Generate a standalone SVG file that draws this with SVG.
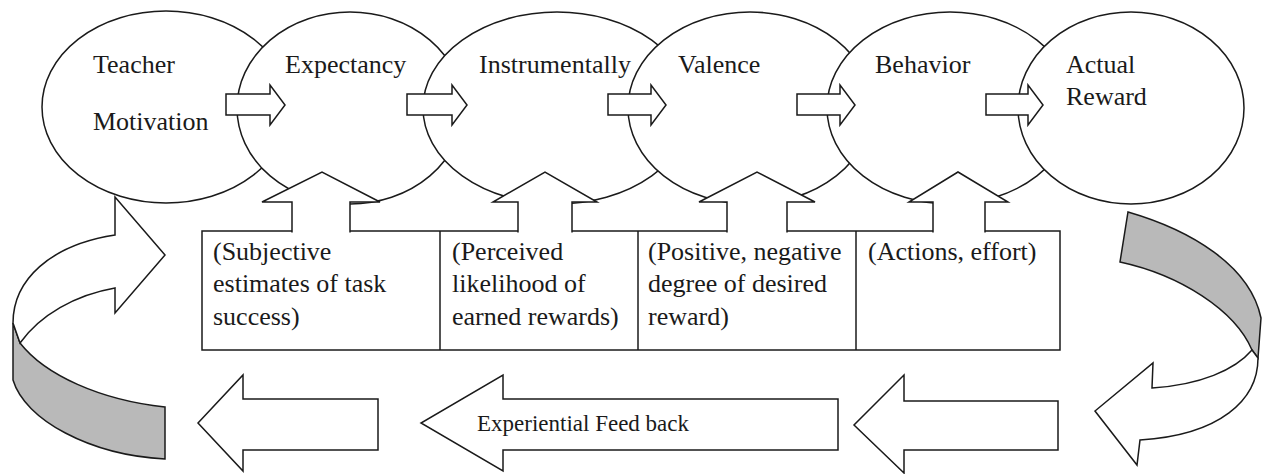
<svg xmlns="http://www.w3.org/2000/svg" width="1262" height="474" viewBox="0 0 1262 474">
<style>
.s{fill:#fff;stroke:#1a1a1a;stroke-width:1.5;stroke-linejoin:miter}
.g{fill:#b9b9b9;stroke:#1a1a1a;stroke-width:1.5}
.ln{fill:none;stroke:#1a1a1a;stroke-width:1.5}
.t{font-family:"Liberation Serif","Times New Roman",serif;font-size:26px;fill:#1a1a1a}
.f{font-family:"Liberation Serif","Times New Roman",serif;font-size:23px;fill:#1a1a1a}
</style>
<rect width="1262" height="474" fill="#fff"/>
<g id="teacher-motivation">
<ellipse class="s" cx="166" cy="107" rx="124" ry="96"/>
<text class="t" x="93" y="73">Teacher</text>
<text class="t" x="93" y="130">Motivation</text>
</g>
<g id="expectancy">
<ellipse class="s" cx="350" cy="108" rx="113" ry="96"/>
<text class="t" x="285" y="73">Expectancy</text>
</g>
<g id="instrumentally">
<ellipse class="s" cx="557" cy="108" rx="134" ry="96"/>
<text class="t" x="479" y="73" textLength="152">Instrumentally</text>
</g>
<g id="valence">
<ellipse class="s" cx="750" cy="108" rx="122" ry="96"/>
<text class="t" x="678" y="73">Valence</text>
</g>
<g id="behavior">
<ellipse class="s" cx="950" cy="108" rx="123" ry="96"/>
<text class="t" x="875" y="73">Behavior</text>
</g>
<g id="actual-reward">
<ellipse class="s" cx="1131" cy="108" rx="113" ry="96"/>
<text class="t" x="1066" y="73">Actual</text>
<text class="t" x="1066" y="105">Reward</text>
</g>
<g id="descriptions">
<rect class="s" x="202" y="231" width="858" height="119"/>
<line class="ln" x1="440" y1="231" x2="440" y2="350"/>
<line class="ln" x1="638" y1="231" x2="638" y2="350"/>
<line class="ln" x1="856" y1="231" x2="856" y2="350"/>
<text class="t" x="213" y="260">(Subjective</text>
<text class="t" x="213" y="292">estimates of task</text>
<text class="t" x="213" y="325">success)</text>
<text class="t" x="452" y="260">(Perceived</text>
<text class="t" x="452" y="292">likelihood of</text>
<text class="t" x="452" y="325">earned rewards)</text>
<text class="t" x="648" y="260">(Positive, negative</text>
<text class="t" x="648" y="292">degree of desired</text>
<text class="t" x="648" y="325">reward)</text>
<text class="t" x="868" y="260">(Actions, effort)</text>
</g>
<g id="connectors">
<polygon class="s" points="226,94 270,94 270,85 285,105 270,125 270,115 226,115"/>
<polygon class="s" points="407,94 452,94 452,85 467,105 452,125 452,115 407,115"/>
<polygon class="s" points="608,94 651,94 651,85 666,105 651,125 651,115 608,115"/>
<polygon class="s" points="797,94 840,94 840,85 855,105 840,125 840,115 797,115"/>
<polygon class="s" points="986,94 1028,94 1028,85 1043,105 1028,125 1028,115 986,115"/>
<path class="s" d="M292,232.5 L292,202 L262,202 L322,172 L380,202 L350,202 L350,232.5"/>
<path class="s" d="M518,232.5 L518,202 L493,202 L545,172 L597,202 L572,202 L572,232.5"/>
<path class="s" d="M727,232.5 L727,202 L699,202 L757,172 L815,202 L787,202 L787,232.5"/>
<path class="s" d="M933,232.5 L933,202 L909,202 L958,172 L1008,202 L985,202 L985,232.5"/>
<polygon class="s" points="378,399 243,399 243,375 198,423 243,471 243,450 378,450"/>
<polygon class="s" points="838,399 503,399 503,375 421,423 503,471 503,450 838,450"/>
<polygon class="s" points="1058,401 904,401 904,375 854,425 904,473 904,450 1058,450"/>
<text class="f" x="477" y="431">Experiential Feed back</text>
<path class="g" d="M13,323 L20,343 C45,375 100,400 165,407 L165,459 C90,455 25,420 13,380 Z"/>
<path class="s" d="M13,323 C13,280 50,245 115,235 L115,197 L165,255 L115,313 L115,288 C75,295 40,315 20,343 Z"/>
<path class="g" d="M1128,212 C1190,230 1250,265 1261,318 L1258,358 L1252,350 C1235,310 1180,275 1120,262 Z"/>
<path class="s" d="M1252,350 L1258,358 C1258,400 1220,435 1140,440 L1137,465 L1095,411 L1153,363 L1152,388 C1200,385 1235,370 1252,350 Z"/>
</g>
</svg>
